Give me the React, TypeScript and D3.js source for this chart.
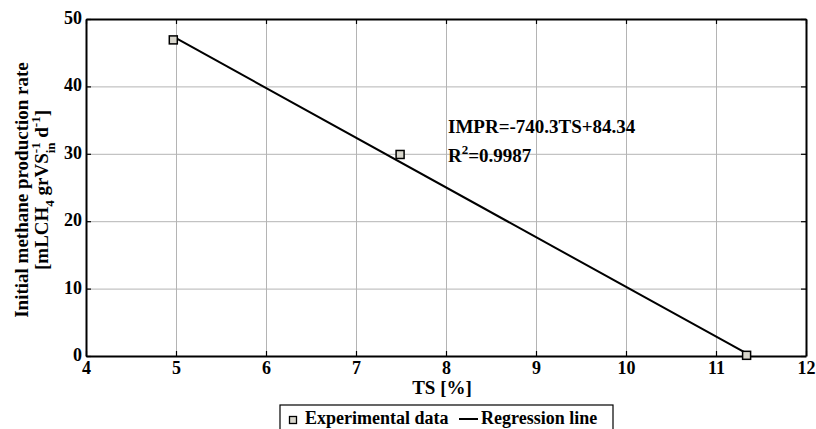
import * as React from 'react';
import * as d3 from 'd3';

// experimental points
const tsValues = [4.97, 7.49, 11.34];
const imprValues = [46.9, 29.9, 0.1];

// regression line end points
const regressionTs = [4.98, 11.35];
const regressionImpr = [47.3, 0.3];

const xTicks = [4, 5, 6, 7, 8, 9, 10, 11, 12];
const yTicks = [0, 10, 20, 30, 40, 50];

const width = 816;
const height = 429;
const margin = { top: 19, right: 10, bottom: 73, left: 86 };
const font = '"Liberation Serif", "Times New Roman", serif';

export default function App() {
    const svgRef = React.useRef<SVGSVGElement | null>(null);

    React.useEffect(() => {
        const svg = d3.select(svgRef.current);
        svg.selectAll('*').remove();

        const plotW = width - margin.left - margin.right;
        const plotH = height - margin.top - margin.bottom;

        const x = d3.scaleLinear().domain([4, 12]).range([0, plotW]);
        const y = d3.scaleLinear().domain([0, 50]).range([plotH, 0]);

        const g = svg.append('g')
            .attr('transform', `translate(${margin.left},${margin.top})`);

        // grid
        g.append('g')
            .attr('transform', `translate(0,${plotH})`)
            .call(d3.axisBottom(x).tickValues(xTicks.slice(1, -1)).tickSize(-plotH).tickFormat(() => ''))
            .call(s => s.select('.domain').remove())
            .call(s => s.selectAll('line').attr('stroke', '#b4b4b4').attr('stroke-width', 1));
        g.append('g')
            .call(d3.axisLeft(y).tickValues(yTicks.slice(1, -1)).tickSize(-plotW).tickFormat(() => ''))
            .call(s => s.select('.domain').remove())
            .call(s => s.selectAll('line').attr('stroke', '#b4b4b4').attr('stroke-width', 1));

        // axes with inward ticks
        const bottom = g.append('g')
            .attr('transform', `translate(0,${plotH})`)
            .call(d3.axisBottom(x).tickValues(xTicks).tickSizeInner(-5).tickSizeOuter(0).tickPadding(5));
        const left = g.append('g')
            .call(d3.axisLeft(y).tickValues(yTicks).tickSizeInner(-5).tickSizeOuter(0).tickPadding(4));
        g.append('g')
            .call(d3.axisTop(x).tickValues(xTicks).tickSizeInner(-5).tickSizeOuter(0).tickFormat(() => ''));
        g.append('g')
            .attr('transform', `translate(${plotW},0)`)
            .call(d3.axisRight(y).tickValues(yTicks).tickSizeInner(-5).tickSizeOuter(0).tickFormat(() => ''));

        g.selectAll('.domain').attr('stroke', '#000').attr('stroke-width', 2);
        g.selectAll('.tick line').filter(function () {
            return (this as SVGLineElement).getAttribute('stroke') !== '#b4b4b4';
        }).attr('stroke', '#000').attr('stroke-width', 1.2);

        bottom.selectAll('text')
            .attr('font-family', font).attr('font-size', 18).attr('font-weight', 'bold').attr('fill', '#000');
        left.selectAll('text')
            .attr('font-family', font).attr('font-size', 18).attr('font-weight', 'bold').attr('fill', '#000')
            .attr('dy', '0.25em');

        // regression line
        const line = d3.line<number>()
            .x((d, i) => x(regressionTs[i]))
            .y(d => y(d));
        g.append('path')
            .datum(regressionImpr)
            .attr('d', line)
            .attr('fill', 'none')
            .attr('stroke', '#000')
            .attr('stroke-width', 2);

        // experimental markers
        g.selectAll('rect.pt')
            .data(tsValues)
            .enter()
            .append('rect')
            .classed('pt', true)
            .attr('x', d => x(d) - 4)
            .attr('y', (d, i) => y(imprValues[i]) - 4)
            .attr('width', 8)
            .attr('height', 8)
            .attr('fill', '#d8d6cc')
            .attr('stroke', '#000')
            .attr('stroke-width', 1.5);

        // equation annotation
        const eq = svg.append('text')
            .attr('font-family', font).attr('font-size', 19).attr('font-weight', 'bold');
        eq.append('tspan').attr('x', 448).attr('y', 133).text('IMPR=-740.3TS+84.34');
        const r2 = svg.append('text')
            .attr('font-family', font).attr('font-size', 19).attr('font-weight', 'bold')
            .attr('x', 448).attr('y', 162);
        r2.append('tspan').text('R');
        r2.append('tspan').attr('font-size', 13).attr('dy', -8).text('2');
        r2.append('tspan').attr('dy', 8).text('=0.9987');

        // x label
        svg.append('text')
            .attr('x', margin.left + plotW / 2 - 4).attr('y', 394)
            .attr('text-anchor', 'middle')
            .attr('font-family', font).attr('font-size', 19).attr('font-weight', 'bold')
            .text('TS [%]');

        // y label, two lines
        const yl1 = svg.append('text')
            .attr('transform', 'translate(28,190) rotate(-90)')
            .attr('text-anchor', 'middle')
            .attr('font-family', font).attr('font-size', 19).attr('font-weight', 'bold');
        yl1.text('Initial methane production rate');

        const yl2 = svg.append('text')
            .attr('transform', 'translate(48,190) rotate(-90)')
            .attr('text-anchor', 'middle')
            .attr('font-family', font).attr('font-size', 19).attr('font-weight', 'bold');
        yl2.append('tspan').text('[mLCH');
        yl2.append('tspan').attr('font-size', 13).attr('dy', 6).text('4');
        yl2.append('tspan').attr('dy', -6).text(' grVS');
        yl2.append('tspan').attr('font-size', 13).attr('dy', -8).text('-1');
        yl2.append('tspan').attr('font-size', 13).attr('dx', -11).attr('dy', 15).text('in');
        yl2.append('tspan').attr('dy', -7).text(' d');
        yl2.append('tspan').attr('font-size', 13).attr('dy', -8).text('-1');
        yl2.append('tspan').attr('dy', 8).text(']');

        // legend
        const lg = svg.append('g');
        lg.append('rect')
            .attr('x', 280).attr('y', 405).attr('width', 333).attr('height', 40)
            .attr('fill', '#fff').attr('stroke', '#000').attr('stroke-width', 1.2);
        lg.append('rect')
            .attr('x', 289.5).attr('y', 416.5).attr('width', 7).attr('height', 7)
            .attr('fill', '#d8d6cc').attr('stroke', '#000').attr('stroke-width', 1.3);
        lg.append('text')
            .attr('x', 305).attr('y', 424)
            .attr('font-family', font).attr('font-size', 18).attr('font-weight', 'bold')
            .text('Experimental data');
        lg.append('line')
            .attr('x1', 459).attr('x2', 478).attr('y1', 419).attr('y2', 419)
            .attr('stroke', '#000').attr('stroke-width', 2);
        lg.append('text')
            .attr('x', 481).attr('y', 424)
            .attr('font-family', font).attr('font-size', 18).attr('font-weight', 'bold')
            .text('Regression line');
    }, []);

    return (
        <div style={{ position: 'fixed', left: 0, top: 0, width, height, background: '#fff' }}>
            <svg ref={svgRef} width={width} height={height} />
        </div>
    );
}
